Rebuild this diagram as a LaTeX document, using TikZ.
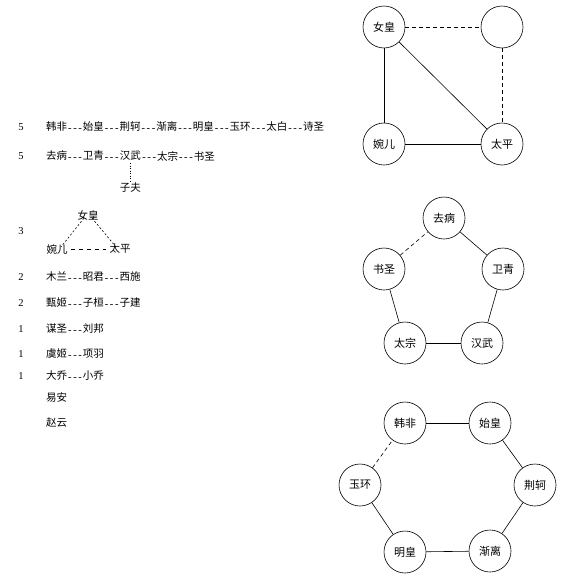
\documentclass[tikz,border=0pt]{standalone}
\usepackage{fontspec}
\setmainfont{Liberation Serif}
\newfontfamily\cjk{Noto Sans CJK SC}
\newcommand\ddd{{\rmfamily\kern1pt\raisebox{-0.8pt}{-\kern1.6pt-\kern1.6pt-}\kern1pt}}
\begin{document}
\begin{tikzpicture}[x=1pt,y=-1pt,
  every node/.style={font=\cjk\fontsize{10.5}{12}\selectfont, inner sep=0pt},
  pnode/.style={draw, circle, minimum size=42pt, line width=0.6pt, font=\cjk\fontsize{11}{13}\selectfont},
  edge/.style={line width=0.6pt},
  dedge/.style={line width=0.6pt, dash pattern=on 4pt off 3pt},
  num/.style={font=\rmfamily\fontsize{10.5}{12}\selectfont},
  row/.style={anchor=west}]
\useasboundingbox (0,0) rectangle (580,584);
% left list
\node[num] (n1) at (21,127) {5};
\node[row] (r1) at (46,127) {韩非\ddd 始皇\ddd 荆轲\ddd 渐离\ddd 明皇\ddd 玉环\ddd 太白\ddd 诗圣};
\node[num] (n2) at (21,156) {5};
\node[row] (r2a) at (46,156) {去病\ddd 卫青\ddd};
\node[anchor=west] (hw) at (r2a.east) {汉武};
\node[anchor=west] (r2b) at (hw.east) {\ddd 太宗\ddd 书圣};
\node (zf) at (hw.center |- 0,188) {子夫};
\draw[line width=0.6pt, dash pattern=on 1pt off 1.5pt] ([yshift=-2pt]hw.south) -- ([yshift=2pt]zf.north);
\node[num] (n3) at (21,231) {3};
\node (nh) at (88,215) {女皇};
\node (we) at (57,249) {婉儿};
\node (tp) at (120,249) {太平};
\draw[line width=0.6pt, dash pattern=on 2pt off 2pt] ([xshift=-4pt,yshift=2pt]nh.south) -- ([xshift=4pt,yshift=-3pt]we.north);
\draw[line width=0.6pt, dash pattern=on 2pt off 2pt] ([xshift=4pt,yshift=2pt]nh.south) -- ([xshift=-4pt,yshift=-3pt]tp.north);
\draw[line width=0.6pt, dash pattern=on 4pt off 4pt] ([xshift=3pt]we.east) -- ([xshift=-3pt]tp.west);
\node[num] (n4) at (21,277) {2};
\node[row] (r4) at (46,277) {木兰\ddd 昭君\ddd 西施};
\node[num] (n5) at (21,303) {2};
\node[row] (r5) at (46,303) {甄姬\ddd 子桓\ddd 子建};
\node[num] (n6) at (21,329) {1};
\node[row] (r6) at (46,329) {谋圣\ddd 刘邦};
\node[num] (n7) at (21,354) {1};
\node[row] (r7) at (46,354) {虞姬\ddd 项羽};
\node[num] (n8) at (21,376) {1};
\node[row] (r8) at (46,376) {大乔\ddd 小乔};
\node[row] (r9) at (46,398) {易安};
\node[row] (r10) at (46,423) {赵云};
% top square
\node[pnode] (a1) at (384,27) {女皇};
\node[pnode] (a2) at (502,27) {};
\node[pnode] (a3) at (384,144) {婉儿};
\node[pnode] (a4) at (502,144) {太平};
\draw[dedge] (a1) -- (a2);
\draw[dedge] (a2) -- (a4);
\draw[edge] (a1) -- (a3);
\draw[edge] (a1) -- (a4);
\draw[edge] (a3) -- (a4);
% pentagon
\node[pnode] (b1) at (444,218) {去病};
\node[pnode] (b2) at (503,269) {卫青};
\node[pnode] (b3) at (482,343) {汉武};
\node[pnode] (b4) at (405,343) {太宗};
\node[pnode] (b5) at (384,269) {书圣};
\draw[edge] (b1) -- (b2);
\draw[edge] (b2) -- (b3);
\draw[edge] (b3) -- (b4);
\draw[edge] (b4) -- (b5);
\draw[dedge] (b5) -- (b1);
% hexagon
\node[pnode] (c1) at (405,423) {韩非};
\node[pnode] (c2) at (490,423) {始皇};
\node[pnode] (c3) at (535,485) {荆轲};
\node[pnode] (c4) at (490,551) {渐离};
\node[pnode] (c5) at (405,552) {明皇};
\node[pnode] (c6) at (360,485) {玉环};
\draw[edge] (c1) -- (c2);
\draw[edge] (c2) -- (c3);
\draw[edge] (c3) -- (c4);
\draw[edge] (c4) -- (c5);
\draw[edge] (c5) -- (c6);
\draw[dedge] (c6) -- (c1);
\end{tikzpicture}
\end{document}
